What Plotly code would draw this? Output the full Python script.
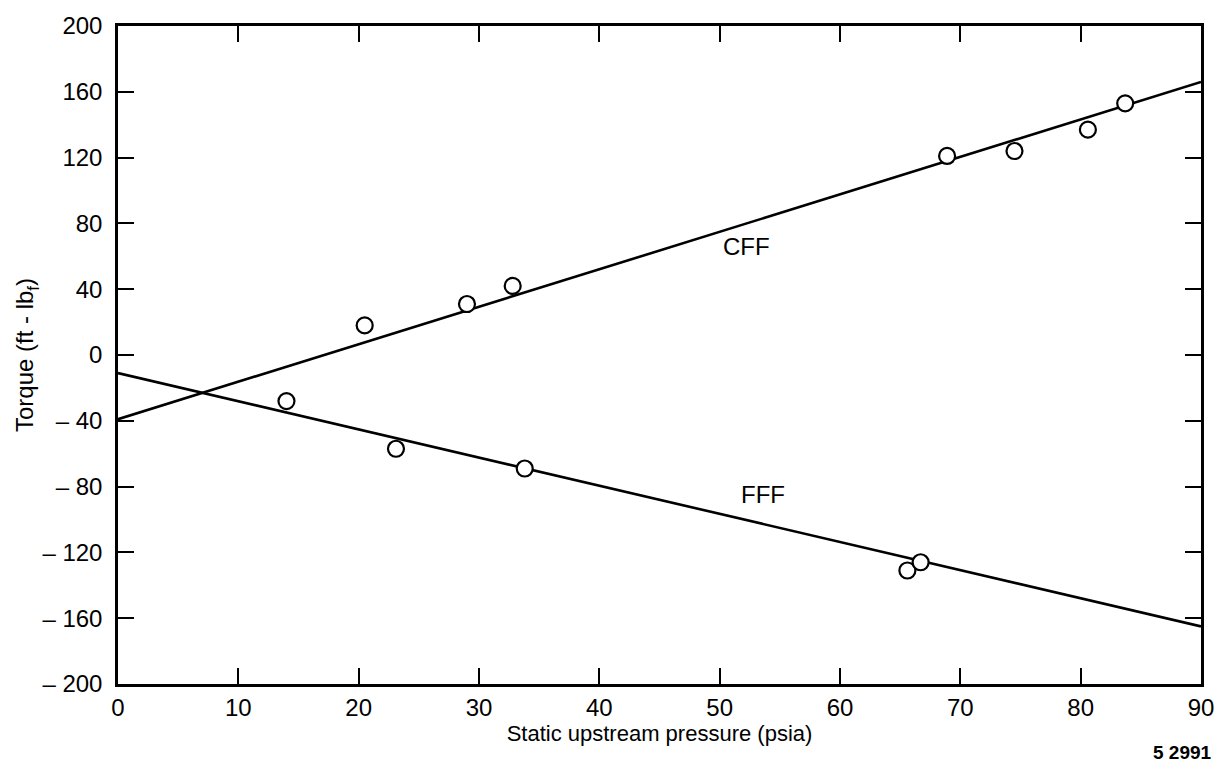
import plotly.graph_objects as go

# Measured torque data
cff_pressure = [20.5, 29.0, 32.8, 68.9, 74.5, 80.6, 83.7]
cff_torque = [18, 31, 42, 121, 124, 137, 153]
fff_pressure = [14.0, 23.1, 33.8, 65.6, 66.7]
fff_torque = [-28, -57, -69, -131, -126]

# Fitted lines (end points at the axis limits)
cff_fit_x = [0, 90]
cff_fit_y = [-39, 166]
fff_fit_x = [0, 90]
fff_fit_y = [-11, -165]

x_ticks = [0, 10, 20, 30, 40, 50, 60, 70, 80, 90]
y_ticks = [200, 160, 120, 80, 40, 0, -40, -80, -120, -160, -200]
y_tick_text = [str(v) if v >= 0 else "\u2013 " + str(-v) for v in y_ticks]

FONT = "Liberation Sans, Arial, sans-serif"

fig = go.Figure()
for fx, fy in [(cff_fit_x, cff_fit_y), (fff_fit_x, fff_fit_y)]:
    fig.add_trace(go.Scatter(x=fx, y=fy, mode="lines",
                             line=dict(color="black", width=2.6),
                             showlegend=False, hoverinfo="skip"))
for px, py in [(cff_pressure, cff_torque), (fff_pressure, fff_torque)]:
    fig.add_trace(go.Scatter(x=px, y=py, mode="markers",
                             marker=dict(symbol="circle", size=16, color="white",
                                         line=dict(color="black", width=2.2)),
                             showlegend=False))

fig.add_annotation(x=52.2, y=66, text="CFF", showarrow=False,
                   font=dict(family=FONT, size=24, color="black"))
fig.add_annotation(x=53.6, y=-85, text="FFF", showarrow=False,
                   font=dict(family=FONT, size=24, color="black"))
fig.add_annotation(x=1.0, y=0, xref="paper", yref="paper", yshift=-68, xshift=13,
                   text="<b>5 2991</b>", showarrow=False, xanchor="right", yanchor="middle",
                   font=dict(family=FONT, size=19, color="black"))

axis_common = dict(showgrid=False, zeroline=False, showline=True, linecolor="black",
                   linewidth=2.5, mirror="ticks", ticks="inside", ticklen=16,
                   tickwidth=2.2, tickcolor="black",
                   tickfont=dict(family=FONT, size=24, color="black"))

fig.update_xaxes(range=[0, 90], tickvals=x_ticks,
                 title=dict(text="Static upstream pressure (psia)", standoff=6,
                            font=dict(family=FONT, size=22, color="black")),
                 **axis_common)
fig.update_yaxes(range=[-200, 200], tickvals=y_ticks, ticktext=y_tick_text,
                 ticklabelstandoff=8,
                 title=dict(text="Torque (ft - lb<sub>f</sub>)", standoff=2,
                            font=dict(family=FONT, size=24, color="black")),
                 **axis_common)

fig.update_layout(width=1229, height=764, margin=dict(l=118, r=28, t=19, b=80),
                  paper_bgcolor="white", plot_bgcolor="white")

fig.write_html("out.html")
